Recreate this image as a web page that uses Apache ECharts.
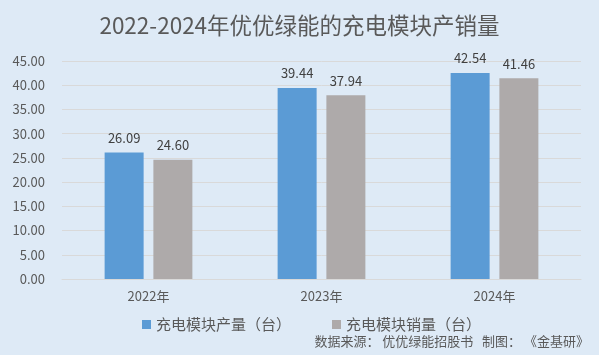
<!DOCTYPE html>
<html><head><meta charset="utf-8">
<script src="https://cdn.jsdelivr.net/npm/echarts@6/dist/echarts.min.js"></script>
<style>html,body{margin:0;padding:0;background:#deeaf6;}#c{width:599px;height:355px;}</style>
</head><body><div id="c"></div>
<script>
const categories = ['2022年','2023年','2024年'];
const production = [26.09, 39.44, 42.54];
const sales = [24.60, 37.94, 41.46];
const seriesNames = ['充电模块产量（台）','充电模块销量（台）'];
const titleText = '2022-2024年优优绿能的充电模块产销量';
const sourceText = '数据来源： 优优绿能招股书   制图： 《金基研》';
const font = '"Microsoft YaHei","Noto Sans CJK SC",sans-serif';
const chart = echarts.init(document.getElementById('c'));
chart.setOption({
  backgroundColor:'#deeaf6',
  animation:false,
  title:{text:titleText,left:'center',top:9,textStyle:{fontSize:22.5,fontWeight:'normal',color:'#595959',fontFamily:font}},
  graphic:[{type:'text',right:10,top:335,style:{text:sourceText,fontSize:13,fill:'#595959',fontFamily:font}}],
  legend:{data:seriesNames,top:312,left:137,itemWidth:9,itemHeight:9,itemGap:41,icon:'rect',
    textStyle:{fontSize:15,color:'#595959',fontFamily:font}},
  grid:{left:62,right:18,top:61,bottom:76},
  xAxis:{type:'category',data:categories,axisTick:{show:false},
    axisLine:{lineStyle:{color:'#d9d9d9'}},
    axisLabel:{fontSize:13,color:'#595959',margin:11,fontFamily:font}},
  yAxis:{type:'value',min:0,max:45,interval:5,
    axisLabel:{fontSize:13,color:'#595959',margin:17,formatter:v=>v.toFixed(2),fontFamily:font},
    splitLine:{lineStyle:{color:'#d9d9d9'}},axisLine:{show:false},axisTick:{show:false}},
  series:[
    {name:seriesNames[0],type:'bar',data:production,barWidth:39,barGap:'25%',itemStyle:{color:'#5b9bd5'},
     label:{show:true,position:'top',formatter:p=>p.value.toFixed(2),fontSize:13,color:'#404040',fontFamily:font,distance:8}},
    {name:seriesNames[1],type:'bar',data:sales,barWidth:39,itemStyle:{color:'#aeaaaa'},
     label:{show:true,position:'top',formatter:p=>p.value.toFixed(2),fontSize:13,color:'#404040',fontFamily:font,distance:8}}
  ]
});
</script></body></html>
